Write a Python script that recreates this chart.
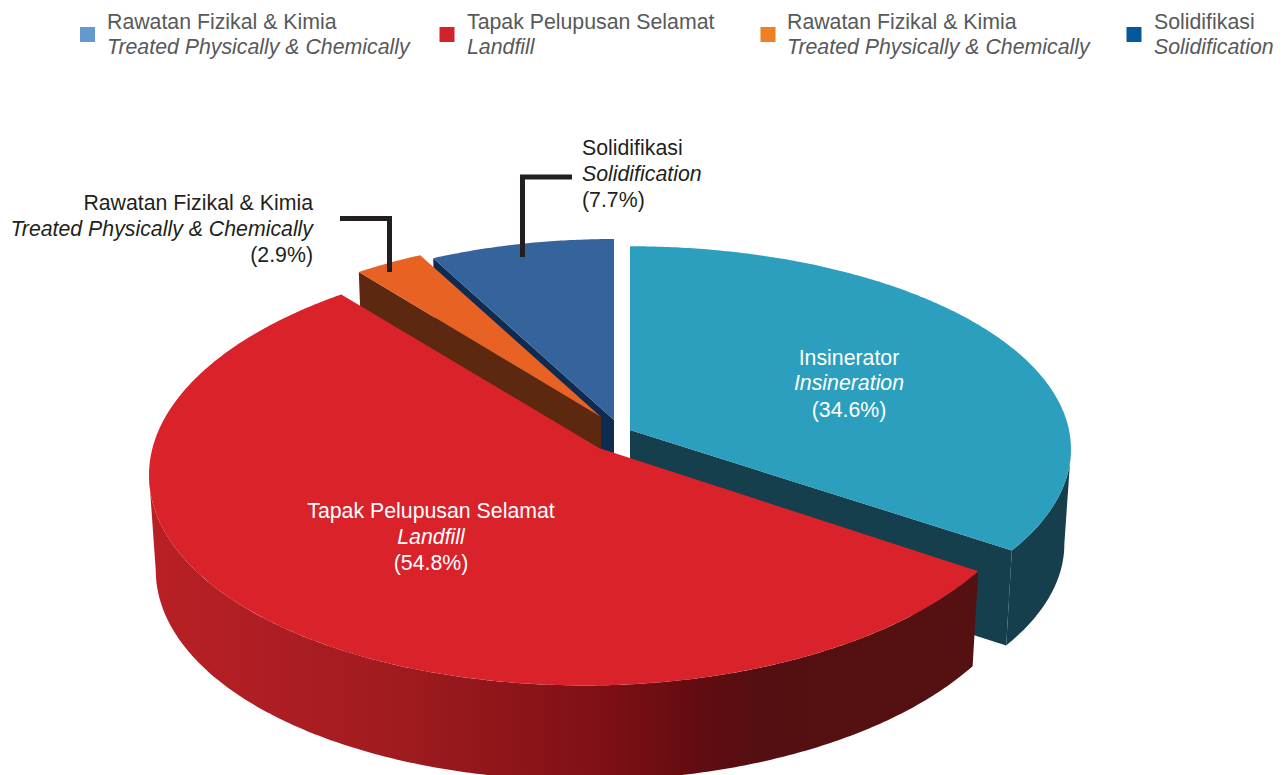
import numpy as np, pandas as pd, altair as alt

# values
names_ms = ["Insinerator", "Tapak Pelupusan Selamat", "Rawatan Fizikal & Kimia", "Solidifikasi"]
names_en = ["Insineration", "Landfill", "Treated Physically & Chemically", "Solidification"]
shares = [34.6, 54.8, 2.9, 7.7]
top_colors = ["#2b9fbd", "#d9222a", "#e86224", "#35639b"]
wall_colors = ["#153f4d", "#5a0d10", "#5c280f", "#0f2b50"]

legend_ms = ["Rawatan Fizikal & Kimia", "Tapak Pelupusan Selamat", "Rawatan Fizikal & Kimia", "Solidifikasi"]
legend_en = ["Treated Physically & Chemically", "Landfill", "Treated Physically & Chemically", "Solidification"]
legend_colors = ["#6498cf", "#d2232a", "#ee7f23", "#04589c"]
legend_swatch_x = [87.5, 447, 768, 1134]
legend_text_x = [107, 467, 787, 1154]

# projection of each slice: apex x, apex y, half width left/right, half height, skew
apex_x = [630, 599, 601, 614]
apex_y = [430, 448, 417, 420]
half_w_left = [439, 448, 421, 421]
half_w_right = [439, 436, 421, 421]
half_h = [201, 215, 198, 198]
skew = [0, -0.015, 0, 0]
TILT = 0.094
DEPTH = 95
SHRINK = 0.985
SIZE = 21.3

W, H = 1272, 767
xs = alt.Scale(domain=[8, 8 + W], range=[0, W], nice=False, zero=False)
ys = alt.Scale(domain=[8, 8 + H], range=[0, H], nice=False, zero=False)
X = alt.X("x:Q", scale=xs, axis=None)
Y = alt.Y("y:Q", scale=ys, axis=None)


def rim(i, deg):
    t = np.radians(deg)
    d = 1 + TILT * np.cos(t)
    a = half_w_right[i] if np.sin(t) > 0 else half_w_left[i]
    dx = a * np.sin(t) / d
    return apex_x[i] + dx, apex_y[i] - half_h[i] * np.cos(t) / d + skew[i] * dx


def lower(i, p):
    return apex_x[i] + (p[0] - apex_x[i]) * SHRINK, p[1] + DEPTH


def poly_chart(pts, fill):
    df = pd.DataFrame({"x": [p[0] for p in pts], "y": [p[1] for p in pts], "o": range(len(pts))})
    return alt.Chart(df).mark_line(fill=fill, stroke=None, strokeWidth=0, clip=True, interpolate="linear-closed").encode(
        x=X, y=Y, order="o:Q")


edges = np.concatenate([[0], np.cumsum(shares) / sum(shares) * 360])
arcs = [np.linspace(edges[i], edges[i + 1], int((edges[i + 1] - edges[i]) * 2) + 2) for i in range(4)]
EXTREME = np.degrees(np.arccos(-TILT))  # where the rim is widest

red_gradient = alt.LinearGradient(
    gradient="linear", x1=0, x2=1, y1=0, y2=0,
    stops=[
        alt.GradientStop(offset=0, color="#b82025"),
        alt.GradientStop(offset=0.12, color="#b01e24"),
        alt.GradientStop(offset=0.30, color="#a01b1f"),
        alt.GradientStop(offset=0.546, color="#7e1015"),
        alt.GradientStop(offset=0.67, color="#600c11"),
        alt.GradientStop(offset=0.74, color="#540f12"),
        alt.GradientStop(offset=1, color="#551011"),
    ],
)


def top(i):
    a = (apex_x[i], apex_y[i])
    return poly_chart([a] + [rim(i, d) for d in arcs[i]], top_colors[i])


def side(i, deg):
    a = (apex_x[i], apex_y[i])
    r = rim(i, deg)
    return poly_chart([a, r, lower(i, r), lower(i, a)], wall_colors[i])


def outer(i, degs, fill):
    up = [rim(i, d) for d in degs]
    return poly_chart(up + [lower(i, p) for p in up[::-1]], fill)


layers = [
    side(0, edges[1]), outer(0, np.linspace(EXTREME, edges[1], 80), wall_colors[0]), top(0),
    side(3, edges[3]), top(3),
    side(2, edges[2]), top(2),
    outer(1, np.linspace(edges[1], 360 - EXTREME, 240), red_gradient), top(1),
]

# leader lines
leader_x = [[340, 389.5, 389.5], [572, 522.5, 522.5]]
leader_y = [[218.5, 218.5, 272], [177, 177, 257]]
for lx, ly in zip(leader_x, leader_y):
    d = pd.DataFrame({"x": lx, "y": ly, "o": range(3)})
    layers.append(alt.Chart(d).mark_line(color="#231f20", strokeWidth=5, strokeJoin="miter", strokeCap="butt").encode(x=X, y=Y, order="o:Q"))


def text(rows, color, size=SIZE, italic=False, align="left"):
    d = pd.DataFrame(rows, columns=["x", "y", "t"])
    kw = {"fontStyle": "italic"} if italic else {}
    return alt.Chart(d).mark_text(font="Liberation Sans", fontSize=size, color=color, align=align, baseline="alphabetic", **kw).encode(x=X, y=Y, text="t:N")


# slice labels
layers += [
    text([(849, 365, names_ms[0]), (849, 417, f"({shares[0]}%)")], "#ffffff", align="center"),
    text([(849, 390, names_en[0])], "#ffffff", italic=True, align="center"),
    text([(431, 518, names_ms[1]), (431, 570, f"({shares[1]}%)")], "#ffffff", align="center"),
    text([(431, 544, names_en[1])], "#ffffff", italic=True, align="center"),
    text([(313, 210, names_ms[2]), (313, 262, f"({shares[2]}%)")], "#231f20", align="right"),
    text([(313, 236, names_en[2])], "#231f20", italic=True, align="right"),
    text([(582, 155, names_ms[3]), (582, 207, f"({shares[3]}%)")], "#231f20"),
    text([(582, 181, names_en[3])], "#231f20", italic=True),
]

# legend
layers.append(alt.Chart(pd.DataFrame({"x": legend_swatch_x, "y": [34.5] * 4, "c": legend_colors})).mark_square(size=225, opacity=1, filled=True).encode(
    x=X, y=Y, color=alt.Color("c:N", scale=None)))
layers += [
    text(list(zip(legend_text_x, [29] * 4, legend_ms)), "#58595b"),
    text(list(zip(legend_text_x, [54] * 4, legend_en)), "#58595b", italic=True),
]

chart = alt.layer(*layers).properties(width=W, height=H, padding=0, autosize=alt.AutoSizeParams(type="none")).configure_view(stroke=None)
chart.save("out.html", embed_options={"renderer": "svg", "actions": False})
